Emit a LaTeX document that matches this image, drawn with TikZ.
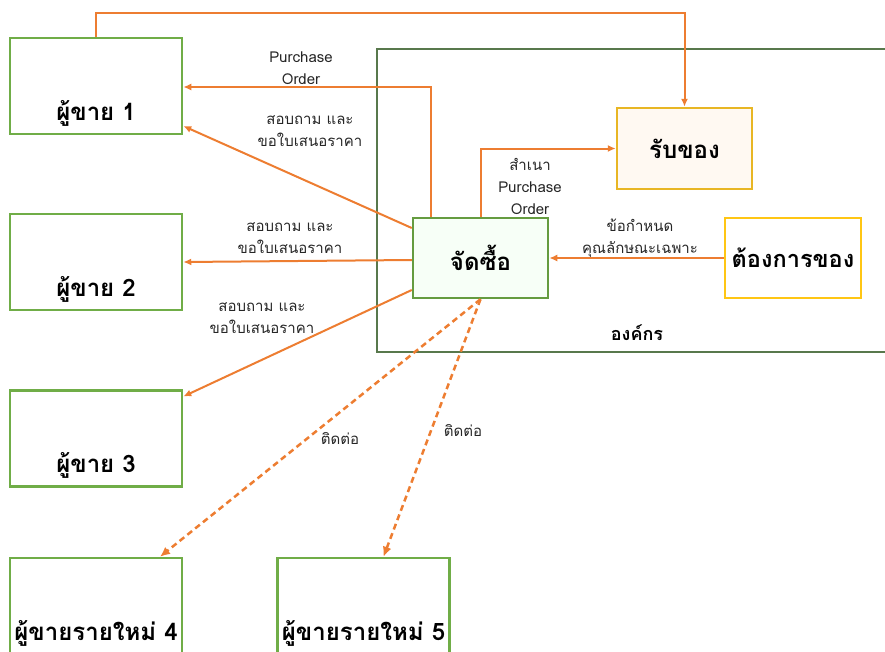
\documentclass[tikz,border=0pt]{standalone}
\usepackage{fontspec}
\setmainfont[Script=Thai]{Loma}
\usetikzlibrary{positioning}
\usetikzlibrary{arrows.meta}
\definecolor{orng}{RGB}{237,125,49}
\definecolor{vgreen}{RGB}{112,173,71}
\definecolor{orggreen}{RGB}{88,120,76}
\definecolor{gold}{RGB}{232,182,36}
\definecolor{yell}{RGB}{255,198,20}
\tikzset{
    vendor/.style = {rectangle, line width=2.5pt, draw=vgreen, minimum width=172pt, text height=79pt, text depth=11pt, inner sep=3pt, font=\fontsize{24}{26}\selectfont\bfseries},
    buybox/.style = {rectangle, line width=2.5pt, draw=vgreen!90!black, fill=black!4!green!3, minimum width=135pt, minimum height=80pt, font=\fontsize{24}{26}\selectfont\bfseries},
    recvbox/.style = {rectangle, line width=2.5pt, draw=gold, fill=orange!5, minimum width=135pt, minimum height=81pt, font=\fontsize{24}{26}\selectfont\bfseries},
    needbox/.style = {rectangle, line width=2.5pt, draw=yell, fill=white, minimum width=136pt, minimum height=80pt, font=\fontsize{23.5}{26}\selectfont\bfseries},
    lbl/.style = {align=center, text=black!85, font=\fontsize{15}{22}\selectfont},
    flow/.style = {-{Latex[length=8pt,width=7pt]}, line width=2pt, orng},
    flowd/.style = {-{Latex[length=10pt,width=9pt]}, line width=2.5pt, orng, dash pattern=on 6pt off 4pt}, % new vendors
}
\begin{document}
\begin{tikzpicture}[x=1pt,y=-1pt]
  \useasboundingbox (0,0) rectangle (885,651);
  % organisation
  \draw[line width=2pt, orggreen] (900,49) -- (377,49) -- (377,352) -- (900,352);
  \node[font=\fontsize{18}{20}\selectfont\bfseries] (org) at (637,333) {องค์กร};

  \node[vendor] (v1) at (96,86) {ผู้ขาย 1};
  \node[vendor] (v2) at (96,262) {ผู้ขาย 2};
  \node[vendor] (v3) at (96,438.5) {ผู้ขาย 3};
  \node[vendor] (v4) at (96,606) {ผู้ขายรายใหม่ 4};
  \node[vendor] (v5) at (363.5,606) {ผู้ขายรายใหม่ 5};
  \node[buybox] (buy) at (480.5,258) {จัดซื้อ};
  \node[recvbox] (recv) at (684.5,148.5) {รับของ};
  \node[needbox] (need) at (793,258) {ต้องการของ};

  \draw[flow] (v1.north) -- ++(0,-24) -| (recv.north);
  \draw[flow] ([xshift=-50pt]buy.north) |- ([yshift=-1pt]v1.east);
  \draw[flow] ([yshift=30pt]buy.west) -- ([yshift=-40pt]v1.east);
  \draw[flow] ([yshift=-2pt]buy.west) -- (v2.east);
  \draw[flow] ([yshift=-32pt]buy.west) -- ([yshift=42pt]v3.east);
  \draw[flow] (buy.north) |- (recv.west);
  \draw[flow] (need.west) -- (buy.east);
  \draw[flowd] (buy.south) -- ([xshift=64pt]v4.north);
  \draw[flowd] (buy.south) -- ([xshift=20pt]v5.north);

  \node[lbl] (po) at (301,68) {Purchase\\Order};
  \node[lbl] (ask1) at (310,131) {สอบถาม และ\\ขอใบเสนอราคา};
  \node[lbl] (ask2) at (290,238) {สอบถาม และ\\ขอใบเสนอราคา};
  \node[lbl] (ask3) at (262,318) {สอบถาม และ\\ขอใบเสนอราคา};
  \node[lbl] (copy) at (530,186) {สำเนา\\Purchase\\Order};
  \node[lbl] (spec) at (640,238) {ข้อกำหนด\\คุณลักษณะเฉพาะ};
  \node[lbl] (c4) at (340,438) {ติดต่อ};
  \node[lbl] (c5) at (463,430) {ติดต่อ};
\end{tikzpicture}
\end{document}
